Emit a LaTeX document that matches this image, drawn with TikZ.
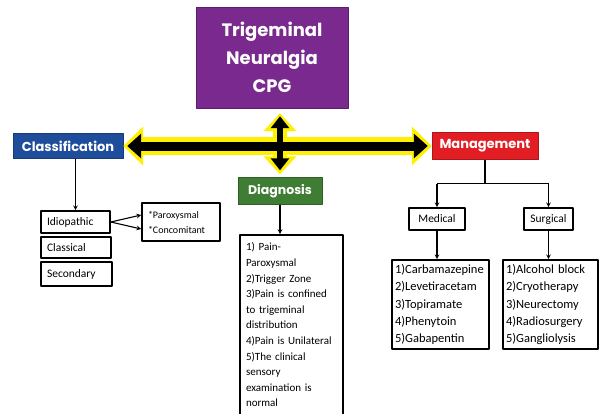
\documentclass[tikz,border=0pt]{standalone}
\usepackage{fontspec}
\setmainfont{Carlito}
\newfontfamily\headfont{Poppins}
\usetikzlibrary{arrows.meta}
\definecolor{cpgpurple}{RGB}{122,41,142}
\definecolor{cpgblue}{RGB}{30,78,155}
\definecolor{cpgred}{RGB}{226,30,36}
\definecolor{cpggreen}{RGB}{64,125,52}
\definecolor{cpgyellow}{RGB}{255,240,0}
\begin{document}
\begin{tikzpicture}[x=1pt, y=-1pt, >=stealth, line join=round,
	headbox/.style={draw=#1!75!black, fill=#1, text=white, inner sep=0pt, font=\headfont\bfseries\fontsize{13}{15}\selectfont},
	plainbox/.style={draw=black, line width=1.6pt, fill=white, inner xsep=5pt, inner ysep=3pt, align=left, font=\fontsize{11.5}{15.6}\selectfont},
	listbox/.style={plainbox, font=\fontsize{12.5}{17.3}\selectfont, inner xsep=3pt},
	conn/.style={line width=1.1pt},
	yellowarrow/.style={cpgyellow, line width=#1},
	blackarrow/.style={black, line width=#1, shorten <=4pt, shorten >=4pt}]
	\path[use as bounding box, clip] (0,0) rectangle (606,413);
	% heads
	\node[headbox=cpgpurple, minimum width=152pt, minimum height=101pt, align=center, font=\headfont\bfseries\fontsize{18}{28}\selectfont] (cpg) at (272,57.5) {Trigeminal\\Neuralgia\\CPG};
	\node[headbox=cpgblue, minimum width=110pt, minimum height=25pt] (class) at (68,146) {Classification};
	\node[headbox=cpgred, minimum width=106pt, minimum height=27pt] (mgmt) at (485,146) {Management};
	\node[headbox=cpggreen, minimum width=84pt, minimum height=27pt, font=\headfont\bfseries\fontsize{12.5}{15}\selectfont] (diag) at (280,191) {Diagnosis};
	% big arrows
	\draw[yellowarrow=18pt, {Triangle[width=38pt,length=20pt]}-{Triangle[width=38pt,length=20pt]}] (class.east) -- (mgmt.west);
	\draw[yellowarrow=14pt, shorten <=5pt, shorten >=3pt, {Triangle[width=32pt,length=18pt]}-{Triangle[width=32pt,length=18pt]}] (cpg.south -| diag.north) -- (diag.north);
	\draw[blackarrow=9pt, {Triangle[width=24pt,length=14pt]}-{Triangle[width=24pt,length=14pt]}] (class.east) -- (mgmt.west);
	\draw[blackarrow=6pt, shorten <=8pt, shorten >=7pt, {Triangle[width=18pt,length=12pt]}-{Triangle[width=18pt,length=12pt]}] (cpg.south -| diag.north) -- (diag.north);
	% classification
	\node[plainbox, minimum width=69pt, minimum height=22pt, text width=57pt] (idio) at (75.5,222) {Idiopathic};
	\node[plainbox, minimum width=70pt, minimum height=21pt, text width=58pt] (classical) at (76,247.5) {Classical};
	\node[plainbox, minimum width=71pt, minimum height=24pt, text width=59pt] (second) at (76.5,274) {Secondary};
	\node[plainbox, minimum width=78pt, minimum height=38pt, text width=66pt, font=\fontsize{10}{15}\selectfont] (parox) at (181,222) {*Paroxysmal\\{}*Concomitant};
	\draw[conn, ->] (class.south -| idio.north) -- (idio.north);
	\draw[conn, ->] (idio.east) -- ([yshift=7pt]parox.west);
	\draw[conn, ->] (idio.east) -- ([yshift=-7pt]parox.west);
	% diagnosis
	\node[plainbox, anchor=north, minimum width=103pt, text width=91pt, inner ysep=8pt, font=\fontsize{11}{15.6}\selectfont] (diaglist) at (291.5,234) {1) Pain-\\Paroxysmal\\2)Trigger Zone\\3)Pain is confined\\to trigeminal\\distribution\\4)Pain is Unilateral\\5)The clinical\\sensory\\examination is\\normal\\[30pt]\mbox{}};
	\draw[conn, ->] (diag.south) -- (diag.south |- diaglist.north);
	% management
	\node[plainbox, minimum width=56pt, minimum height=22pt, align=center] (med) at (437,219) {Medical};
	\node[plainbox, minimum width=49pt, minimum height=22pt, align=center] (surg) at (548.5,219) {Surgical};
	\node[listbox, minimum width=97pt, minimum height=89pt, text width=91pt] (medlist) at (440.5,304.5) {1)Carbamazepine\\2)Levetiracetam\\3)Topiramate\\4)Phenytoin\\5)Gabapentin};
	\node[listbox, minimum width=95pt, minimum height=89pt, text width=89pt] (surglist) at (550.5,304.5) {1)Alcohol block\\2)Cryotherapy\\3)Neurectomy\\4)Radiosurgery\\5)Gangliolysis};
	\draw[conn] (mgmt.south) -- ++(0,24) coordinate (mgmtsplit);
	\draw[conn] (med.north |- mgmtsplit) -- (surg.north |- mgmtsplit);
	\draw[conn, ->] (med.north |- mgmtsplit) -- (med.north);
	\draw[conn, ->] (surg.north |- mgmtsplit) -- (surg.north);
	\draw[conn, ->] (med.south) -- (med.south |- medlist.north);
	\draw[conn, ->] (surg.south) -- (surg.south |- surglist.north);
\end{tikzpicture}
\end{document}
